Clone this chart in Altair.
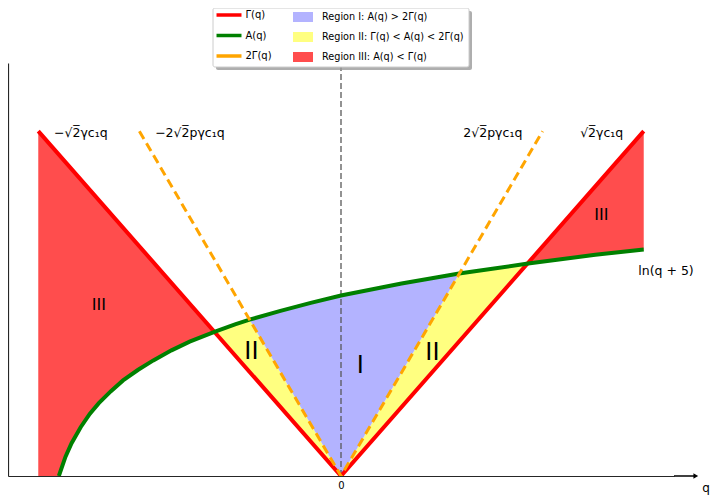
import altair as alt
import pandas as pd
import numpy as np

# ---- data ----
# A(q) = ln(q+5) curve (green), sampled
q_A = [-4.66, -4.55, -4.45, -4.3, -4.15, -4.0, -3.8, -3.6, -3.35, -3.1, -2.8, -2.5,
       -2.08, -1.75, -1.51, -1.0, -0.5, 0.0, 0.5, 1.0, 1.5, 1.95, 2.5, 3.09, 3.6, 4.2, 5.0]
A_vals = [0.00, 0.29, 0.49, 0.73, 0.93, 1.09, 1.27, 1.43, 1.59, 1.73, 1.88, 2.01,
          2.16, 2.27, 2.34, 2.47, 2.59, 2.70, 2.79, 2.88, 2.96, 3.03, 3.10, 3.18, 3.24, 3.31, 3.39]
# Gamma(q) (red) and 2Gamma(q) (orange dashed) straight lines
gamma_q = [-5.0, 0.0, 5.0]
gamma_v = [5.16, 0.0, 5.16]
twog_q = [-3.33, 0.0, 3.33]
twog_v = [5.16, 0.0, 5.16]

series_names = ["Γ(q)", "A(q)", "2Γ(q)"]
series_colors = ["#ff0000", "#008000", "#ffa500"]
region_names = ["Region I:  A(q) > 2Γ(q)",
                "Region II:  Γ(q) < A(q) < 2Γ(q)",
                "Region III:  A(q) < Γ(q)"]
region_colors = ["#b3b3ff", "#ffff80", "#ff4d4d"]

top_labels = ["−√2̅γc₁q", "−2√2̅pγc₁q", "2√2̅pγc₁q", "√2̅γc₁q"]
top_label_q = [-4.74, -3.07, 2.02, 3.95]
top_label_y = [5.13, 5.13, 5.13, 5.13]

roman_big = ["II", "I", "II"]
roman_big_q = [-1.48, 0.32, 1.51]
roman_big_y = [1.86, 1.65, 1.84]
roman_small = ["III", "III"]
roman_small_q = [-4.0, 4.30]
roman_small_y = [2.56, 3.91]

X_MIN, X_MAX = -5.5, 5.5
Y_MIN, Y_MAX = 0.0, 6.18

# ---- build tables ----
qa = np.array(q_A)
av = np.array(A_vals)
sg = gamma_v[0] / abs(gamma_q[0])
s2g = twog_v[0] / abs(twog_q[0])

rows = []
# Region III left
m = qa <= -2.08
q3 = np.concatenate([[-5.0], qa[m]])
lo3 = np.concatenate([[0.0], np.maximum(av[m], 0)])
for q, lo in zip(q3, lo3):
    rows.append(dict(q=q, lo=lo, hi=max(sg * abs(q), lo), region=region_names[2], part="L"))
# Region II
m = (qa >= -2.08) & (qa <= 3.09)
for q, a in zip(qa[m], av[m]):
    lo = sg * abs(q)
    rows.append(dict(q=q, lo=lo, hi=max(lo, min(a, s2g * abs(q))), region=region_names[1], part="M"))
# Region I
m = (qa >= -1.51) & (qa <= 1.95)
for q, a in zip(qa[m], av[m]):
    lo = s2g * abs(q)
    rows.append(dict(q=q, lo=lo, hi=max(a, lo), region=region_names[0], part="M"))
# Region III right
m = qa >= 3.09
for q, a in zip(qa[m], av[m]):
    rows.append(dict(q=q, lo=a, hi=max(a, sg * abs(q)), region=region_names[2], part="R"))
regions = pd.DataFrame(rows)

gamma_df = pd.DataFrame(dict(q=gamma_q, y=gamma_v, series=series_names[0]))
a_df = pd.DataFrame(dict(q=q_A, y=A_vals, series=series_names[1]))
twog_df = pd.DataFrame(dict(q=twog_q, y=twog_v, series=series_names[2]))

xs = alt.Scale(domain=[X_MIN, X_MAX], nice=False, zero=False)
ys = alt.Scale(domain=[Y_MIN, Y_MAX], nice=False, zero=False)
xaxis = alt.Axis(values=[0], format="d", title=None, grid=False, tickSize=0, labelPadding=4,
                 labelFont="DejaVu Sans", labelFontSize=10, labelColor="#000",
                 domainColor="#262626", domainWidth=1.2, labelFlush=False)
yaxis = alt.Axis(title=None, grid=False, ticks=False, labels=False,
                 domainColor="#262626", domainWidth=1.2)

stroke_enc = alt.Stroke("series:N",
    scale=alt.Scale(domain=series_names, range=series_colors),
    legend=alt.Legend(title=None, orient="none", legendX=213, legendY=-56,
                      symbolType="M-2,0L2,0", symbolSize=156, symbolStrokeWidth=3.5,
                      labelFont="DejaVu Sans", labelFontSize=10, labelOffset=8.5,
                      rowPadding=5.5, padding=0))

fill_enc = alt.Fill("region:N",
    scale=alt.Scale(domain=region_names, range=region_colors),
    legend=alt.Legend(title=None, orient="none", legendX=285, legendY=-56,
                      symbolType="M-1,-0.5H1V0.5H-1Z", symbolSize=400,
                      symbolStrokeWidth=0, symbolOpacity=1,
                      labelFont="DejaVu Sans", labelFontSize=9.7, labelOffset=9,
                      labelLimit=400, rowPadding=5, padding=0))

areas = alt.Chart(regions).mark_area(opacity=1, interpolate="linear").encode(
    x=alt.X("q:Q", scale=xs, axis=xaxis),
    y=alt.Y("lo:Q", scale=ys, axis=yaxis),
    y2="hi:Q",
    fill=fill_enc,
    detail="part:N",
)

center = alt.Chart(pd.DataFrame(dict(q=[0.0], y0=[Y_MIN], y1=[Y_MAX]))).mark_rule(
    color="#555555", strokeWidth=1.5, strokeDash=[6, 3], opacity=0.85
).encode(x=alt.X("q:Q", scale=xs), y=alt.Y("y0:Q", scale=ys), y2="y1:Q")

def line_layer(df, width, dash=None):
    kw = dict(strokeWidth=width, clip=True)
    if dash:
        kw["strokeDash"] = dash
    return alt.Chart(df).mark_line(**kw).encode(
        x=alt.X("q:Q", scale=xs), y=alt.Y("y:Q", scale=ys), stroke=stroke_enc,
        order="q:Q")

red_line = line_layer(gamma_df, 4)
green_line = line_layer(a_df, 4)
orange_line = line_layer(twog_df, 3, dash=[9, 5])

# bottom arrow
arrow_line = alt.Chart(pd.DataFrame(dict(q0=[X_MAX], q1=[5.86], y=[0.0]))).mark_rule(
    color="#000", strokeWidth=1.5).encode(
    x=alt.X("q0:Q", scale=xs), x2="q1:Q", y=alt.Y("y:Q", scale=ys))
arrow_head = alt.Chart(pd.DataFrame(dict(q=[5.86], y=[0.0]))).mark_point(
    shape="triangle-right", filled=True, size=30, color="#000", opacity=1).encode(
    x=alt.X("q:Q", scale=xs), y=alt.Y("y:Q", scale=ys))
q_label = alt.Chart(pd.DataFrame(dict(q=[6.03], y=[-0.18], t=["q"]))).mark_text(
    font="DejaVu Sans", fontSize=12, color="#000", align="center", baseline="middle").encode(
    x=alt.X("q:Q", scale=xs), y=alt.Y("y:Q", scale=ys), text="t:N")

top_txt = alt.Chart(pd.DataFrame(dict(q=top_label_q, y=top_label_y, t=top_labels))).mark_text(
    font="DejaVu Sans", fontSize=12.5, color="#000", align="left", baseline="middle").encode(
    x=alt.X("q:Q", scale=xs), y=alt.Y("y:Q", scale=ys), text="t:N")
ln_txt = alt.Chart(pd.DataFrame(dict(q=[4.91], y=[3.07], t=["ln(q + 5)"]))).mark_text(
    font="DejaVu Sans", fontSize=12.5, color="#000", align="left", baseline="middle").encode(
    x=alt.X("q:Q", scale=xs), y=alt.Y("y:Q", scale=ys), text="t:N")
big_txt = alt.Chart(pd.DataFrame(dict(q=roman_big_q, y=roman_big_y, t=roman_big))).mark_text(
    font="DejaVu Sans", fontSize=24, color="#000", align="center", baseline="middle").encode(
    x=alt.X("q:Q", scale=xs), y=alt.Y("y:Q", scale=ys), text="t:N")
small_txt = alt.Chart(pd.DataFrame(dict(q=roman_small_q, y=roman_small_y, t=roman_small))).mark_text(
    font="DejaVu Sans", fontSize=16, color="#000", align="center", baseline="middle").encode(
    x=alt.X("q:Q", scale=xs), y=alt.Y("y:Q", scale=ys), text="t:N")

# legend frame (decoration)
frame_df = pd.DataFrame(dict(a=[0]))
shadow = alt.Chart(frame_df).mark_rect(color="#9a9a9a", opacity=0.8, cornerRadius=2).encode(
    x=alt.value(208), x2=alt.value(464), y=alt.value(-52), y2=alt.value(7))
frame = alt.Chart(frame_df).mark_rect(fill="#ffffff", stroke="#cccccc", strokeWidth=1,
                                      cornerRadius=2).encode(
    x=alt.value(205), x2=alt.value(461), y=alt.value(-55), y2=alt.value(4))

chart = alt.layer(
    areas, center, red_line, green_line, orange_line,
    arrow_line, arrow_head, q_label, top_txt, ln_txt, big_txt, small_txt,
    shadow, frame,
).resolve_scale(stroke="shared", fill="independent").properties(
    width=666, height=413,
    padding={"left": 0, "top": 55, "right": 36, "bottom": 22},
    autosize=alt.AutoSizeParams(type="none"),
    background="white",
).configure_view(stroke=None)

chart.save("out.html", embed_options={"renderer": "svg", "actions": False})
